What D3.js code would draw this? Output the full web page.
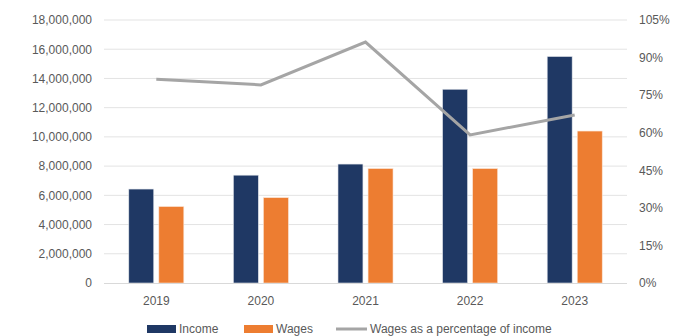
<!DOCTYPE html>
<html>
<head>
<meta charset="utf-8">
<script src="https://cdn.jsdelivr.net/npm/d3@7"></script>
<style>
  html, body { margin: 0; padding: 0; background: #fff; }
  svg { display: block; font-family: "Liberation Sans", Arial, sans-serif; }
</style>
</head>
<body>
<svg id="chart" width="683" height="336"></svg>
<script>
// Yearly income, wages and wages as a share of income
const years = ["2019", "2020", "2021", "2022", "2023"];
const income = [6430000, 7380000, 8140000, 13260000, 15500000];
const wages = [5230000, 5840000, 7830000, 7830000, 10400000];
const wagePct = [81.3, 79.1, 96.2, 59.1, 67.1];
const leftTicks = [0, 2000000, 4000000, 6000000, 8000000, 10000000, 12000000, 14000000, 16000000, 18000000];
const rightTicks = [0, 15, 30, 45, 60, 75, 90, 105];
const seriesNames = ["Income", "Wages", "Wages as a percentage of income"];

const colors = { income: "#1f3864", wages: "#ed7d31", line: "#a5a5a5", grid: "#e3e3e3", text: "#595959" };

const svg = d3.select("#chart");
const m = { left: 104, right: 627, top: 20, bottom: 283 };

const x0 = d3.scaleBand().domain(years).range([m.left, m.right])
  .paddingInner(0.474).paddingOuter(0.237);
const x1 = d3.scaleBand().domain(["income", "wages"]).range([0, x0.bandwidth()]).paddingInner(0.17);
const yL = d3.scaleLinear().domain([0, 18000000]).range([m.bottom, m.top]);
const yR = d3.scaleLinear().domain([0, 105]).range([m.bottom, m.top]);

// gridlines
svg.append("g").selectAll("line").data(leftTicks.slice(1)).join("line")
  .attr("x1", m.left).attr("x2", m.right)
  .attr("y1", d => yL(d)).attr("y2", d => yL(d))
  .attr("stroke", colors.grid).attr("stroke-width", 1);

// left axis
const leftAxis = svg.append("g").attr("transform", `translate(${m.left - 8},0)`)
  .call(d3.axisLeft(yL).tickValues(leftTicks).tickFormat(d3.format(",")).tickSize(0).tickPadding(4));
leftAxis.select(".domain").remove();
leftAxis.selectAll("text").attr("fill", colors.text).style("font-size", "12px")
  .style("font-family", '"Liberation Sans", Arial, sans-serif');

// right axis
const rightAxis = svg.append("g").attr("transform", `translate(${m.right + 8},0)`)
  .call(d3.axisRight(yR).tickValues(rightTicks).tickFormat(d => d + "%").tickSize(0).tickPadding(4));
rightAxis.select(".domain").remove();
rightAxis.selectAll("text").attr("fill", colors.text).style("font-size", "12px")
  .style("font-family", '"Liberation Sans", Arial, sans-serif');

// bars
const groups = svg.append("g").selectAll("g").data(years).join("g")
  .attr("transform", d => `translate(${x0(d)},0)`);
groups.append("rect")
  .attr("x", x1("income")).attr("width", x1.bandwidth())
  .attr("y", (d, i) => yL(income[i])).attr("height", (d, i) => yL(0) - yL(income[i]))
  .attr("fill", colors.income).attr("stroke", "#dfe3ea").attr("stroke-width", 0.6);
groups.append("rect")
  .attr("x", x1("wages")).attr("width", x1.bandwidth())
  .attr("y", (d, i) => yL(wages[i])).attr("height", (d, i) => yL(0) - yL(wages[i]))
  .attr("fill", colors.wages).attr("stroke", "#fbe3d3").attr("stroke-width", 0.6);

// category axis line
svg.append("line").attr("x1", m.left).attr("x2", m.right)
  .attr("y1", m.bottom + 0.5).attr("y2", m.bottom + 0.5)
  .attr("stroke", "#d9d9d9").attr("stroke-width", 1);

// category labels
const xAxis = svg.append("g").attr("transform", `translate(0,${m.bottom})`)
  .call(d3.axisBottom(x0).tickSize(0).tickPadding(13));
xAxis.select(".domain").remove();
xAxis.selectAll("text").attr("fill", colors.text).style("font-size", "12px")
  .style("font-family", '"Liberation Sans", Arial, sans-serif');

// percentage line
const line = d3.line()
  .x((d, i) => x0(years[i]) + x0.bandwidth() / 2)
  .y(d => yR(d));
svg.append("path").datum(wagePct).attr("d", line)
  .attr("fill", "none").attr("stroke", colors.line).attr("stroke-width", 3)
  .attr("stroke-linejoin", "miter");

// legend
const legend = svg.append("g").attr("transform", "translate(0,328.5)");
const items = [
  { name: seriesNames[0], x: 147, type: "rect", color: colors.income },
  { name: seriesNames[1], x: 244, type: "rect", color: colors.wages },
  { name: seriesNames[2], x: 336, type: "line", color: colors.line }
];
items.forEach(it => {
  if (it.type === "rect") {
    legend.append("rect").attr("x", it.x).attr("y", -3.5).attr("width", 29).attr("height", 8).attr("fill", it.color);
  } else {
    legend.append("line").attr("x1", it.x).attr("x2", it.x + 31).attr("y1", 0.5).attr("y2", 0.5)
      .attr("stroke", it.color).attr("stroke-width", 3);
  }
  legend.append("text").attr("x", it.x + (it.type === "rect" ? 32 : 34)).attr("y", 0)
    .attr("dy", "0.35em").attr("fill", colors.text).style("font-size", "12px").text(it.name);
});
</script>
</body>
</html>
